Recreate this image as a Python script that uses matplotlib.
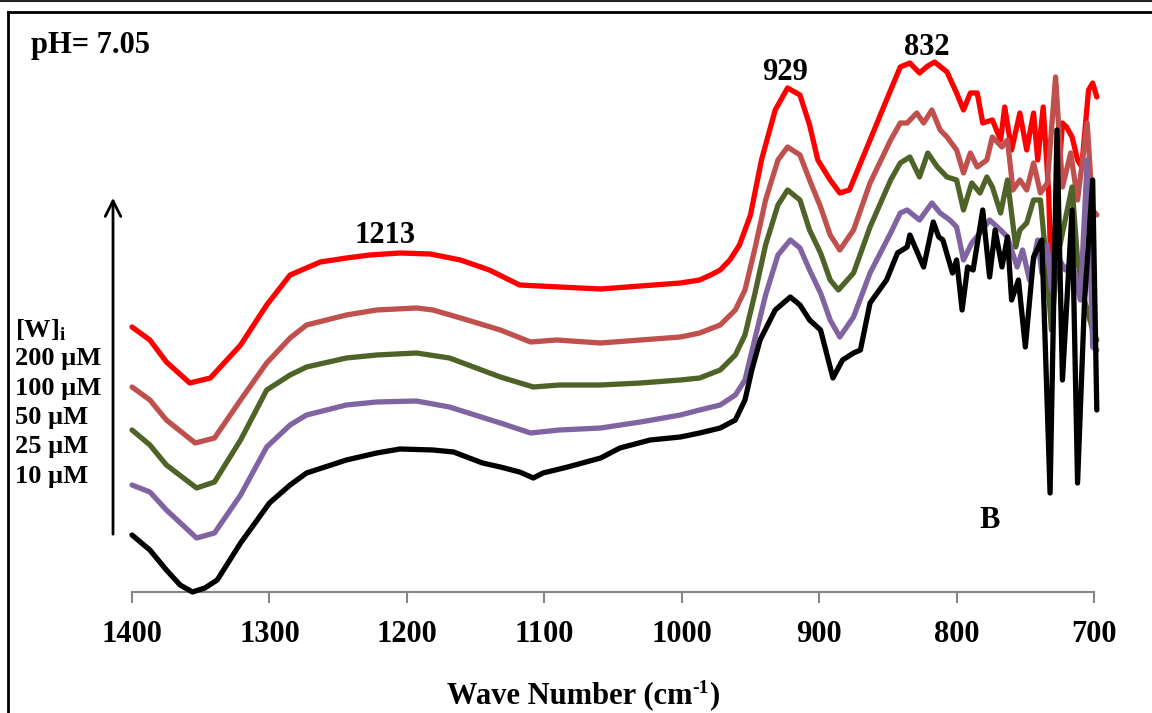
import matplotlib
matplotlib.use("Agg")
import matplotlib.pyplot as plt
from matplotlib.lines import Line2D
from matplotlib.patches import FancyArrowPatch

plt.rcParams["font.family"] = ["Liberation Serif", "DejaVu Serif"]
plt.rcParams["font.weight"] = "bold"
plt.rcParams["mathtext.fontset"] = "custom"
plt.rcParams["mathtext.rm"] = "Liberation Serif:bold"
plt.rcParams["mathtext.bf"] = "Liberation Serif:bold"
plt.rcParams["mathtext.it"] = "Liberation Serif:bold"

# spectra (wave number in cm-1, signal in arbitrary units)
wn_200 = [1400, 1387, 1375, 1358, 1343, 1321, 1302, 1285, 1263, 1244, 1227, 1205, 1183, 1161,
          1140, 1118, 1089, 1059, 1030, 1001, 987, 979, 972, 965, 958, 950, 942, 932, 923, 914,
          907, 901, 892, 885, 878, 872, 863, 851, 841, 834, 827, 821, 816, 807, 800, 795, 790,
          785, 781, 774, 768, 765, 760, 754, 749, 744, 741, 737, 733, 731, 727, 723, 720, 716,
          712, 709, 704, 701, 698]
ab_200 = [2.65, 2.52, 2.30, 2.09, 2.14, 2.47, 2.87, 3.17, 3.30, 3.34, 3.37, 3.39, 3.38, 3.32,
          3.22, 3.07, 3.05, 3.03, 3.06, 3.09, 3.12, 3.17, 3.22, 3.32, 3.47, 3.77, 4.32, 4.82, 5.04,
          4.97, 4.67, 4.32, 4.12, 3.99, 4.02, 4.22, 4.52, 4.92, 5.25, 5.29, 5.19, 5.26, 5.30, 5.20,
          4.99, 4.82, 4.99, 4.99, 4.69, 4.72, 4.52, 4.85, 4.42, 4.79, 4.42, 4.79, 4.32, 4.85, 3.99,
          3.02, 3.92, 4.69, 4.65, 4.55, 4.32, 4.25, 5.02, 5.09, 4.95]

wn_100 = [1400, 1387, 1375, 1354, 1340, 1321, 1302, 1285, 1273, 1244, 1222, 1193, 1181, 1156,
          1132, 1110, 1091, 1059, 1030, 1001, 987, 972, 961, 954, 947, 939, 930, 923, 914, 907,
          899, 892, 885, 875, 863, 848, 841, 836, 829, 824, 818, 812, 807, 800, 795, 790, 785,
          778, 774, 767, 763, 759, 754, 749, 744, 739, 734, 728, 723, 717, 712, 705, 701, 698]
ab_100 = [2.05, 1.92, 1.72, 1.49, 1.54, 1.92, 2.29, 2.54, 2.67, 2.77, 2.82, 2.84, 2.82, 2.72,
          2.62, 2.50, 2.52, 2.49, 2.52, 2.55, 2.59, 2.67, 2.82, 3.02, 3.42, 3.92, 4.32, 4.45, 4.37,
          4.12, 3.85, 3.57, 3.42, 3.62, 4.09, 4.52, 4.69, 4.69, 4.79, 4.69, 4.82, 4.62, 4.55, 4.42,
          4.19, 4.39, 4.25, 4.32, 4.55, 4.45, 4.52, 4.02, 4.12, 4.02, 4.29, 3.99, 4.09, 5.15, 4.05,
          4.39, 3.92, 4.69, 3.82, 3.77]

wn_50 = [1400, 1387, 1375, 1353, 1340, 1321, 1302, 1285, 1273, 1244, 1222, 1193, 1169, 1132,
         1108, 1089, 1059, 1030, 1001, 987, 972, 961, 954, 947, 939, 930, 923, 914, 907, 899,
         892, 886, 875, 863, 848, 841, 834, 827, 821, 814, 807, 800, 795, 789, 783, 778, 774,
         768, 763, 757, 754, 749, 744, 739, 734, 731, 727, 723, 716, 712, 707, 701, 698]
ab_50 = [1.62, 1.47, 1.27, 1.04, 1.10, 1.52, 2.02, 2.17, 2.25, 2.34, 2.37, 2.39, 2.34, 2.15,
         2.05, 2.07, 2.07, 2.09, 2.12, 2.14, 2.22, 2.37, 2.57, 2.97, 3.47, 3.87, 4.02, 3.92, 3.62,
         3.39, 3.12, 3.02, 3.19, 3.65, 4.12, 4.29, 4.35, 4.15, 4.39, 4.25, 4.15, 4.12, 3.82, 4.09,
         3.99, 4.15, 4.05, 3.79, 4.12, 3.45, 3.62, 3.69, 3.92, 3.92, 3.19, 2.62, 3.32, 3.59, 4.05,
         3.32, 2.92, 2.62, 2.52]

wn_25 = [1400, 1387, 1375, 1353, 1340, 1321, 1302, 1285, 1273, 1244, 1222, 1193, 1169, 1132,
         1110, 1089, 1059, 1030, 1001, 987, 972, 961, 954, 947, 939, 930, 921, 914, 907, 899,
         892, 885, 875, 863, 848, 841, 836, 827, 818, 812, 805, 800, 795, 789, 783, 776, 768,
         763, 756, 752, 747, 741, 738, 734, 731, 727, 721, 716, 710, 705, 701, 698]
ab_25 = [1.07, 1.00, 0.82, 0.54, 0.59, 0.97, 1.45, 1.67, 1.77, 1.87, 1.90, 1.91, 1.85, 1.69,
         1.59, 1.62, 1.64, 1.70, 1.77, 1.82, 1.87, 1.97, 2.12, 2.52, 2.97, 3.37, 3.52, 3.44, 3.22,
         2.99, 2.72, 2.55, 2.75, 3.19, 3.59, 3.79, 3.82, 3.72, 3.89, 3.79, 3.72, 3.65, 3.32, 3.49,
         3.59, 3.72, 3.62, 3.55, 3.25, 3.42, 3.12, 3.52, 3.19, 3.47, 3.02, 3.37, 3.22, 3.32, 2.92,
         4.32, 2.45, 2.42]

wn_10 = [1400, 1387, 1375, 1365, 1356, 1347, 1338, 1321, 1300, 1285, 1273, 1244, 1222, 1205,
         1181, 1166, 1145, 1132, 1118, 1108, 1101, 1083, 1059, 1045, 1023, 1001, 987, 972, 961,
         954, 949, 943, 932, 921, 914, 907, 899, 890, 883, 875, 870, 863, 851, 843, 836, 834,
         824, 817, 813, 810, 803, 800, 796, 792, 788, 781, 776, 772, 767, 763, 760, 755, 750,
         744, 738, 732, 727, 723, 716, 712, 707, 701, 698]
ab_10 = [0.57, 0.42, 0.22, 0.07, 0.00, 0.04, 0.12, 0.49, 0.89, 1.07, 1.19, 1.32, 1.39, 1.43,
         1.42, 1.40, 1.29, 1.25, 1.20, 1.14, 1.19, 1.25, 1.34, 1.44, 1.52, 1.55, 1.59, 1.64, 1.72,
         1.92, 2.22, 2.52, 2.82, 2.95, 2.87, 2.72, 2.62, 2.14, 2.32, 2.39, 2.42, 2.89, 3.12, 3.39,
         3.45, 3.57, 3.25, 3.70, 3.55, 3.52, 3.19, 3.32, 2.82, 3.25, 3.22, 3.82, 3.15, 3.62, 3.25,
         3.55, 2.92, 3.12, 2.45, 3.35, 3.52, 0.99, 4.62, 2.12, 3.82, 1.09, 2.89, 4.12, 1.82]

series_x = [wn_200, wn_100, wn_50, wn_25, wn_10]
series_y = [ab_200, ab_100, ab_50, ab_25, ab_10]
conc_labels = ["200 µM", "100 µM", "50 µM", "25 µM", "10 µM"]
colors = ["#FF0000", "#C0504D", "#4F6228", "#8064A2", "#000000"]

x_ticks = [1400, 1300, 1200, 1100, 1000, 900, 800, 700]
peak_pos = [1216, 925, 822]
peak_lbl = ["1213", "929", "832"]
peak_y = [3.56, 5.19, 5.44]

# figure
fig = plt.figure(figsize=(11.52, 7.13), dpi=100)
ax = fig.add_axes([0.1146, 0.1697, 0.8351, 0.8149])

for i in range(len(series_x)):
    ax.plot(series_x[i], series_y[i], color=colors[i], lw=3.8, zorder=2 + i,
            solid_joinstyle="round", solid_capstyle="round", clip_on=False)

ax.set_xlim(1400, 700)
ax.set_ylim(0, 5.81)
ax.set_xticks(x_ticks)
ax.set_xticklabels([str(t) for t in x_ticks])
ax.set_yticks([])
for s in ["left", "right", "top"]:
    ax.spines[s].set_visible(False)
ax.spines["bottom"].set_color("#868686")
ax.spines["bottom"].set_linewidth(1.5)
ax.tick_params(axis="x", direction="out", length=8, width=1.5, color="#868686",
               labelsize=22, pad=12)

# peak labels
for p, t, y in zip(peak_pos, peak_lbl, peak_y):
    ax.text(p, y, t, fontsize=22, ha="center", va="center", zorder=10)
ax.text(776, 0.72, "B", fontsize=22, ha="center", va="center")

# x label, built from pieces so the superscript keeps a plain hyphen
xl = fig.text(447 / 1152, 0.014, "Wave Number (cm", fontsize=22, ha="left", va="baseline")
fig.canvas.draw()
bb = xl.get_window_extent()
sup = fig.text(bb.x1 / 1152, 0.014 + 10 / 713, "-1", fontsize=14, ha="left", va="baseline")
fig.canvas.draw()
bb2 = sup.get_window_extent()
fig.text(bb2.x1 / 1152 + 0.001, 0.014, ")", fontsize=22, ha="left", va="baseline")

# pH note
fig.text(0.027, 0.9257, "pH= 7.05", fontsize=22, ha="left", va="baseline")

# concentration list and arrow
fig.text(0.013, 1 - 337 / 713, r"[W]$_{\mathbf{i}}$", fontsize=19, ha="left", va="baseline")
for k, lab in enumerate(conc_labels):
    fig.text(0.013, 1 - (365 + 29.5 * k) / 713, lab, fontsize=19, ha="left", va="baseline")

arr = FancyArrowPatch((0.0981, 1 - 537 / 713), (0.0981, 1 - 195 / 713),
                      transform=fig.transFigure, arrowstyle="->", mutation_scale=28,
                      lw=2, color="black")
fig.add_artist(arr)

# frame lines
fig.add_artist(Line2D([0, 1], [0.999, 0.999], transform=fig.transFigure, color="#222222", lw=1.5))
fig.add_artist(Line2D([0.0072, 1], [1 - 11.5 / 713, 1 - 11.5 / 713], transform=fig.transFigure,
                      color="black", lw=2))
fig.add_artist(Line2D([0.0072, 0.0072], [0, 1 - 11.5 / 713], transform=fig.transFigure,
                      color="black", lw=2))

fig.savefig("out.png", dpi=100)
